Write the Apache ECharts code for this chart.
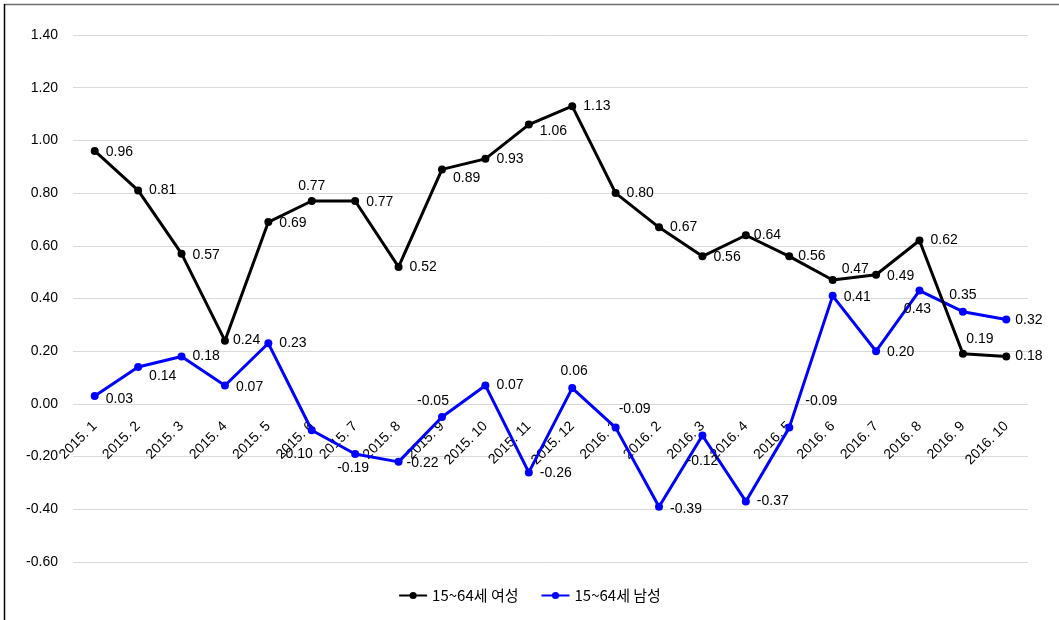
<!DOCTYPE html>
<html>
<head>
<meta charset="utf-8">
<title>15~64세 성별 변화</title>
<script src="https://cdn.jsdelivr.net/npm/echarts@6/dist/echarts.min.js"></script>
<style>
  html, body { margin: 0; padding: 0; background: #fff; }
  #chart { width: 1059px; height: 620px; }
</style>
</head>
<body>
<div id="chart"></div>
<script>
// Month categories along the x axis
const months = [
  '2015. 1', '2015. 2', '2015. 3', '2015. 4', '2015. 5', '2015. 6',
  '2015. 7', '2015. 8', '2015. 9', '2015. 10', '2015. 11', '2015. 12',
  '2016. 1', '2016. 2', '2016. 3', '2016. 4', '2016. 5', '2016. 6',
  '2016. 7', '2016. 8', '2016. 9', '2016. 10'
];

const seriesNames = ['15~64세 여성', '15~64세 남성'];

const femaleValues = [
  0.96, 0.81, 0.57, 0.24, 0.69, 0.77, 0.77, 0.52, 0.89, 0.93, 1.06,
  1.13, 0.80, 0.67, 0.56, 0.64, 0.56, 0.47, 0.49, 0.62, 0.19, 0.18
];

const maleValues = [
  0.03, 0.14, 0.18, 0.07, 0.23, -0.10, -0.19, -0.22, -0.05, 0.07, -0.26,
  0.06, -0.09, -0.39, -0.12, -0.37, -0.09, 0.41, 0.20, 0.43, 0.35, 0.32
];

// y axis range and step
const yMin = -0.6;
const yMax = 1.4;
const yStep = 0.2;

// Where each value label sits relative to its point: [position, dx, dy]
const femaleLabelPlace = [
  ['right', 0, 1], ['right', 0, 0], ['right', 0, 1], ['right', -3, -1],
  ['right', 0, 1], ['top', 0, 3], ['right', 0, 1], ['right', 0, 0],
  ['right', 0, 9], ['right', 0, 0], ['right', 0, 7], ['right', 0, 0],
  ['right', 0, 0], ['right', 0, 0], ['right', 0, 1], ['right', -3, 0],
  ['right', -2, 0], ['right', -2, -11], ['right', 0, 1], ['right', 0, 0],
  ['top', 17, 3], ['right', -2, 0]
];

const maleLabelPlace = [
  ['right', 0, 3], ['right', 0, 9], ['right', 0, 0], ['right', 0, 2],
  ['right', 0, 0], ['bottom', -15, 6], ['bottom', -2, -4], ['right', -3, 1],
  ['top', -9, 2], ['right', 0, 0], ['right', 0, 1], ['top', 2, 1],
  ['top', 19, 0], ['right', 0, 2], ['bottom', 0, 8], ['right', 0, 0],
  ['top', 32, -8], ['right', 0, 1], ['right', 0, 1], ['bottom', -2, 1],
  ['top', 0, 1], ['right', -2, 1]
];

function buildPoints(values, places) {
  return values.map(function (v, i) {
    const pl = places[i];
    return {
      value: v,
      label: { position: pl[0], offset: [pl[1], pl[2]] }
    };
  });
}

const labelText = {
  show: true,
  color: '#000',
  fontFamily: 'Liberation Sans, Arial, sans-serif',
  fontSize: 14,
  distance: 7,
  formatter: function (p) { return p.value.toFixed(2); }
};

// plot box
const gridTop = 35;
const gridBottom = 58;
const chartHeight = 620;
// lift the category axis from the bottom edge up to the zero line
const plotHeight = chartHeight - gridTop - gridBottom;
const zeroLift = plotHeight * (0 - yMin) / (yMax - yMin);

const chart = echarts.init(document.getElementById('chart'), null, { renderer: 'canvas' });

chart.setOption({
  backgroundColor: '#fff',
  animation: false,
  textStyle: { fontFamily: 'Liberation Sans, Arial, sans-serif' },
  graphic: [
    { type: 'line', shape: { x1: 4, y1: 4.5, x2: 1059, y2: 4.5 }, style: { stroke: '#6e6e6e', lineWidth: 1.5 } },
    { type: 'line', shape: { x1: 4.5, y1: 4, x2: 4.5, y2: 620 }, style: { stroke: '#000', lineWidth: 1.5 } }
  ],
  grid: { left: 73, right: 31, top: gridTop, bottom: gridBottom, containLabel: false },
  legend: {
    data: seriesNames,
    left: 'center',
    top: 583,
    itemWidth: 28,
    itemHeight: 9,
    itemGap: 22,
    textStyle: {
      fontFamily: 'Noto Sans CJK KR, sans-serif',
      fontSize: 15,
      color: '#000'
    }
  },
  xAxis: {
    type: 'category',
    data: months,
    boundaryGap: true,
    position: 'bottom',
    offset: -zeroLift,
    axisLine: { show: false, onZero: false },
    axisTick: { show: false },
    axisLabel: {
      interval: 0,
      rotate: 45,
      margin: 20,
      color: '#000',
      fontSize: 14,
      fontFamily: 'Liberation Sans, Arial, sans-serif'
    },
    splitLine: { show: false }
  },
  yAxis: {
    type: 'value',
    min: yMin,
    max: yMax,
    interval: yStep,
    axisLine: { show: false },
    axisTick: { show: false },
    axisLabel: {
      margin: 15,
      color: '#000',
      fontSize: 14,
      fontFamily: 'Liberation Sans, Arial, sans-serif',
      formatter: function (v) { return v.toFixed(2); }
    },
    splitLine: { lineStyle: { color: '#d9d9d9', width: 1 } }
  },
  series: [
    {
      name: seriesNames[0],
      type: 'line',
      data: buildPoints(femaleValues, femaleLabelPlace),
      symbol: 'circle',
      symbolSize: 8,
      color: '#000000',
      lineStyle: { color: '#000000', width: 3 },
      itemStyle: { color: '#000000' },
      label: labelText,
      z: 3
    },
    {
      name: seriesNames[1],
      type: 'line',
      data: buildPoints(maleValues, maleLabelPlace),
      symbol: 'circle',
      symbolSize: 8,
      color: '#0000ff',
      lineStyle: { color: '#0000ff', width: 3 },
      itemStyle: { color: '#0000ff' },
      label: labelText,
      z: 2
    }
  ]
});
</script>
</body>
</html>
